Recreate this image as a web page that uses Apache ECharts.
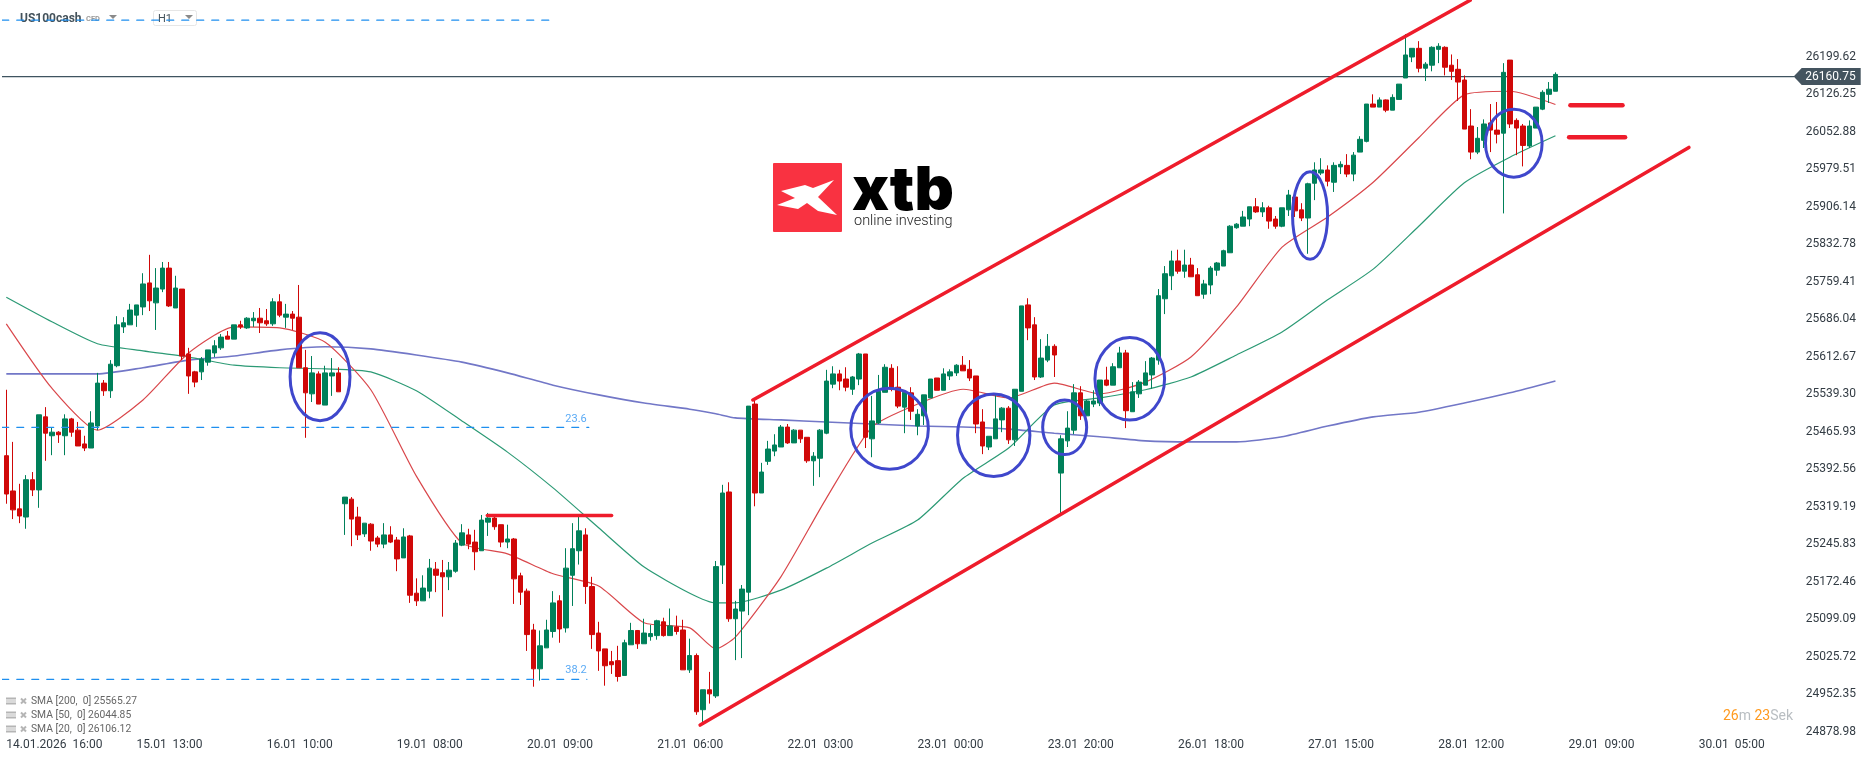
<!DOCTYPE html>
<html>
<head>
<meta charset="utf-8">
<title>US100cash H1</title>
<style>
  html, body { margin: 0; padding: 0; background: #fff; }
  #chart { width: 1866px; height: 761px; }
</style>
<script src="https://cdn.jsdelivr.net/npm/echarts@6/dist/echarts.min.js"></script>
</head>
<body>
<div id="chart"></div>
<script>
// hourly candles
const opens = [
  25419,25350,25315,25299,25372,25352,25495,25458,25465,25458,
  25491,25469,25442,25434,25477,25561,25546,25595,25671,25675,
  25694,25710,25757,25718,25745,25786,25708,25745,25618,25583,
  25583,25602,25620,25630,25653,25647,25675,25669,25683,25688,
  25683,25677,25720,25690,25696,25690,25591,25540,25579,25518,
  25575,25581,25325,25334,25299,25266,25285,25258,25246,25264,
  25254,25219,25262,25150,25135,25154,25197,25190,25182,25193,
  25244,25264,25250,25233,25289,25297,25284,25250,25256,25184,
  25154,25078,25002,25043,25075,25135,25082,25185,25233,25264,
  25163,25072,25041,25016,25018,24989,25049,25077,25051,25065,
  25067,25094,25067,25084,25078,25000,25028,24922,24961,24949,
  25205,25348,25100,25115,25152,25520,25346,25408,25428,25436,
  25475,25444,25469,25455,25409,25414,25463,25559,25579,25569,
  25549,25569,25618,25452,25483,25543,25590,25553,25514,25542,
  25477,25497,25532,25571,25547,25575,25581,25596,25588,25575,
  25485,25436,25452,25489,25512,25450,25545,25714,25675,25573,
  25606,25633,25385,25448,25469,25542,25497,25520,25522,25567,
  25557,25591,25620,25505,25540,25557,25577,25606,25726,25771,
  25800,25780,25792,25773,25735,25753,25782,25790,25816,25865,
  25868,25882,25906,25896,25904,25882,25868,25900,25925,25900,
  25884,25952,25972,25978,25954,25984,25987,25970,26013,26034,
  26107,26101,26115,26095,26116,26158,26199,26216,26177,26183,
  26214,26218,26183,26175,26154,26064,26013,26036,26070,26056,
  26050,26193,26075,26064,26025,26060,26097,26126,26132
];
const closes = [
  25344,25313,25301,25372,25352,25499,25463,25465,25460,25491,
  25465,25438,25434,25483,25561,25546,25598,25675,25679,25704,
  25714,25755,25722,25747,25786,25712,25747,25614,25575,25563,
  25608,25626,25634,25651,25647,25675,25671,25688,25688,25679,
  25677,25720,25694,25696,25688,25591,25542,25581,25520,25581,
  25581,25544,25338,25295,25264,25287,25252,25246,25264,25250,
  25217,25260,25146,25135,25160,25199,25185,25182,25195,25248,
  25268,25246,25231,25293,25297,25280,25250,25256,25178,25152,
  25069,25002,25047,25078,25131,25080,25199,25237,25272,25163,
  25069,25037,25008,25010,24987,25053,25077,25051,25072,25071,
  25096,25067,25086,25075,25000,25028,24918,24961,24953,25202,
  25346,25100,25119,25158,25516,25346,25387,25432,25440,25475,
  25444,25469,25452,25409,25418,25469,25565,25579,25565,25553,
  25573,25618,25455,25487,25545,25592,25549,25516,25543,25506,
  25500,25538,25569,25547,25579,25583,25596,25585,25571,25481,
  25438,25457,25491,25512,25450,25549,25712,25669,25573,25610,
  25633,25616,25452,25473,25542,25497,25526,25526,25567,25557,
  25593,25620,25507,25544,25563,25581,25610,25732,25775,25800,
  25780,25792,25769,25732,25755,25786,25796,25820,25868,25872,
  25886,25906,25896,25904,25878,25868,25904,25929,25898,25884,
  25951,25978,25978,25956,25987,25989,25970,26007,26038,26107,
  26101,26115,26095,26120,26146,26203,26216,26177,26185,26218,
  26220,26179,26171,26150,26058,26013,26040,26068,26056,26048,
  26169,26068,26060,26026,26064,26101,26130,26136,26165
];
const lows = [
  25325,25295,25287,25276,25340,25317,25409,25420,25444,25420,
  25456,25438,25428,25434,25469,25536,25532,25592,25659,25675,
  25671,25694,25702,25665,25739,25710,25708,25606,25540,25553,
  25567,25595,25612,25626,25647,25647,25667,25667,25671,25659,
  25673,25673,25690,25669,25665,25591,25454,25524,25520,25518,
  25536,25544,25264,25242,25254,25260,25233,25240,25238,25248,
  25193,25219,25131,25125,25135,25140,25152,25104,25156,25190,
  25242,25236,25195,25233,25262,25274,25240,25238,25129,25127,
  25037,24967,24979,25043,25063,25053,25073,25125,25206,25129,
  25041,24998,24969,24992,24977,24989,25049,25041,25051,25057,
  25059,25065,25067,25069,25000,24994,24912,24897,24934,24945,
  25168,25094,25019,25023,25107,25320,25346,25401,25418,25436,
  25442,25444,25444,25405,25360,25377,25461,25551,25547,25545,
  25538,25557,25434,25416,25481,25543,25545,25512,25463,25489,
  25459,25479,25532,25547,25547,25567,25575,25585,25565,25463,
  25422,25430,25452,25465,25442,25438,25545,25645,25567,25571,
  25602,25573,25307,25436,25461,25489,25497,25514,25516,25555,
  25557,25591,25473,25505,25532,25557,25550,25597,25696,25743,
  25775,25767,25769,25732,25726,25735,25771,25790,25816,25863,
  25868,25868,25894,25886,25863,25863,25866,25888,25886,25878,
  25814,25919,25968,25946,25935,25970,25964,25956,26013,26032,
  26101,26101,26091,26095,26116,26158,26189,26169,26152,26171,
  26187,26163,26154,26113,26058,25999,26009,26021,26013,26030,
  25893,26060,26007,25985,26021,26060,26095,26109,26132
];
const highs = [
  25548,25446,25364,25381,25387,25499,25514,25475,25467,25500,
  25493,25485,25458,25506,25581,25567,25606,25692,25690,25716,
  25714,25776,25812,25786,25798,25798,25771,25745,25630,25585,
  25612,25626,25645,25657,25663,25675,25683,25690,25700,25708,
  25706,25727,25735,25716,25702,25753,25626,25614,25584,25595,
  25610,25592,25338,25338,25319,25287,25287,25262,25287,25281,
  25260,25277,25264,25179,25185,25217,25211,25215,25211,25254,
  25285,25276,25274,25303,25307,25301,25284,25284,25258,25190,
  25159,25090,25077,25098,25154,25146,25238,25287,25299,25277,
  25182,25094,25041,25037,25047,25059,25092,25078,25100,25088,
  25098,25102,25120,25106,25098,25061,25032,24961,24996,25213,
  25362,25367,25135,25166,25516,25528,25405,25448,25461,25479,
  25481,25471,25469,25455,25426,25471,25587,25594,25587,25592,
  25575,25620,25618,25536,25577,25598,25598,25594,25547,25553,
  25510,25538,25569,25571,25590,25588,25598,25614,25606,25575,
  25510,25457,25540,25514,25516,25549,25712,25727,25690,25647,
  25657,25637,25459,25506,25559,25555,25528,25547,25567,25593,
  25600,25632,25626,25563,25567,25604,25612,25745,25790,25820,
  25822,25822,25806,25786,25763,25790,25798,25822,25870,25874,
  25898,25906,25923,25915,25908,25888,25904,25939,25925,25913,
  25953,25993,26001,25987,25993,25995,26009,26013,26044,26107,
  26126,26120,26116,26126,26146,26244,26216,26230,26189,26220,
  26226,26220,26204,26195,26163,26097,26062,26077,26107,26111,
  26187,26193,26079,26068,26075,26101,26134,26150,26169
];

// moving averages, read at these candles
const smaIndex = [
  0,7,14,21,28,35,42,49,56,63,70,77,
  84,91,98,105,109,112,119,126,133,140,147,154,
  161,168,175,182,189,196,203,210,217,224,231,238
];
const sma20 = [
  25677,25551,25469,25528,25620,25671,25669,25641,25548,25379,25248,25227,
  25188,25164,25092,25082,25041,25064,25182,25336,25475,25520,25549,25532,25561,
  25540,25563,25612,25710,25827,25886,25954,26041,26125,26132,26106.12
];
const sma50 = [
  25729,25681,25638,25624,25612,25596,25591,25589,25583,25546,25487,25426,
  25356,25278,25201,25150,25131,25131,25156,25199,25248,25293,25375,25434,25518,
  25532,25548,25573,25616,25661,25724,25784,25868,25953,26003,26044.85
];
const sma200 = [
  25579,25579,25579,25591,25606,25614,25626,25632,25628,25616,25602,25581,
  25557,25538,25522,25510,25501,25493,25489,25485,25481,25477,25475,25471,25463,
  25456,25448,25446,25446,25456,25477,25495,25504,25522,25542,25565.27
];

const xTickLabels = [
  '14.01.2026  16:00','15.01  13:00','16.01  10:00','19.01  08:00','20.01  09:00',
  '21.01  06:00','22.01  03:00','23.01  00:00','23.01  20:00','26.01  18:00',
  '27.01  15:00','28.01  12:00','29.01  09:00','30.01  05:00'
];
const xTickEvery = 20;
const priceTicks = [
  26199.62,26126.25,26052.88,25979.51,25906.14,25832.78,25759.41,25686.04,25612.67,25539.30,
  25465.93,25392.56,25319.19,25245.83,25172.46,25099.09,25025.72,24952.35,24878.98
];
const lastPrice = 26160.75;

// drawings on the chart, [candle index, price]
const upperChannel = [[114.7, 25528], [224.9, 26310]];
const lowerChannel = [[106.6, 24892], [258.5, 26022]];
const resistance = [[73.9, 25302], [93, 25302]];
const levelHigh = [[240.3, 26104.5], [248.3, 26104.5]];
const levelLow = [[240.1, 26042], [248.7, 26042]];
const fibTop = [[-0.7, 26271], [84.3, 26271]];
const fib236 = [[-0.7, 25474.5], [89.5, 25474.5]];
const fib382 = [[-0.7, 24981.5], [89.2, 24981.5]];
// circled spots: [index, price, index radius, price radius]
const circles = [
  [48.2, 25573.5, 4.6, 86.1],
  [135.7, 25471.6, 5.96, 79.2],
  [151.7, 25458.9, 5.56, 80.8],
  [162.6, 25474.5, 3.38, 53.4],
  [172.6, 25569.4, 5.35, 80.6],
  [200.3, 25889, 2.69, 85.7],
  [231.6, 26030.2, 4.35, 66.5]
];

const smaLegend = ['SMA [200,  0] 25565.27', 'SMA [50,  0] 26044.85', 'SMA [20,  0] 26106.12'];

const slots = 286;
const categories = Array.from({ length: slots }, (_, i) =>
  i % xTickEvery === 0 ? (xTickLabels[i / xTickEvery] || '') : '');
const candles = opens.map((o, i) => [o, closes[i], lows[i], highs[i]]);

const UP = '#00805a', DOWN = '#d00808', RED = '#ee1c2b', BLUE = '#3f47cc', FIB = '#1e8fef';
const TEXT = '#333c44', FONT = 'Roboto';

function seg(points, color, width, type, z) {
  return {
    type: 'line', xAxisIndex: 1, data: points, symbol: 'none', silent: true, z: z,
    lineStyle: { color: color, width: width, type: type || 'solid', cap: 'round' }
  };
}

function smaLine(values, color, width) {
  return {
    type: 'line', xAxisIndex: 1, symbol: 'none', silent: true, z: 1, smooth: 0.2,
    data: values.map((v, k) => [smaIndex[k], v]),
    lineStyle: { color: color, width: width }
  };
}

const graphics = [];
// logo
graphics.push(
  { type: 'rect', shape: { x: 773, y: 163, width: 69, height: 69, r: 1 }, style: { fill: '#f93241' } },
  { type: 'polygon', shape: { points: [[781,191],[805,185],[813,188],[834,180],[818,197],[837,215],[818,211],[807,203],[798,209],[777,205],[795,198]] }, style: { fill: '#fff' } },
  { type: 'text', style: { x: 852, y: 222, text: 'xtb', fill: '#000', font: '900 61px Inter', verticalAlign: 'bottom' } },
  { type: 'text', style: { x: 854, y: 221, text: 'online investing', fill: '#222', font: '300 14.5px Roboto', verticalAlign: 'middle' } }
);
// header
graphics.push(
  { type: 'text', style: { x: 20, y: 19, text: 'US100cash', fill: '#44525b', font: 'bold 12px Roboto', verticalAlign: 'middle' } },
  { type: 'text', style: { x: 86, y: 19.5, text: 'CFD', fill: '#9a9a9a', font: 'bold 7.5px Roboto', verticalAlign: 'middle' } },
  { type: 'polygon', shape: { points: [[109,15],[117,15],[113,19]] }, style: { fill: '#8a8a8a' } },
  { type: 'rect', shape: { x: 153.5, y: 10.5, width: 43, height: 15, r: 2 }, style: { fill: 'none', stroke: '#e6e6e6' } },
  { type: 'text', style: { x: 158, y: 19.5, text: 'H1', fill: '#44525b', font: '11px Roboto', verticalAlign: 'middle' } },
  { type: 'polygon', shape: { points: [[185,15],[193,15],[189,19]] }, style: { fill: '#8a8a8a' } }
);
// sma legend rows
smaLegend.forEach((label, i) => {
  const y = 701.5 + i * 14;
  graphics.push(
    { type: 'rect', shape: { x: 6, y: y - 4, width: 10, height: 2 }, style: { fill: '#b5b5b5' } },
    { type: 'rect', shape: { x: 6, y: y - 1, width: 10, height: 1 }, style: { fill: '#b5b5b5' } },
    { type: 'rect', shape: { x: 6, y: y + 1, width: 10, height: 2 }, style: { fill: '#b5b5b5' } },
    { type: 'polyline', shape: { points: [[21, y - 3], [26, y + 2]] }, style: { stroke: '#b5b5b5', lineWidth: 2, fill: 'none' } },
    { type: 'polyline', shape: { points: [[26, y - 3], [21, y + 2]] }, style: { stroke: '#b5b5b5', lineWidth: 2, fill: 'none' } },
    { type: 'text', style: { x: 31, y: y, text: label, fill: '#666', font: '10.3px Roboto', verticalAlign: 'middle' } }
  );
});
// fib labels and countdown
graphics.push(
  { type: 'text', style: { x: 576, y: 419, text: '23.6', fill: '#5aaaf5', font: '11px Roboto', align: 'center', verticalAlign: 'middle' } },
  { type: 'text', style: { x: 576, y: 670, text: '38.2', fill: '#5aaaf5', font: '11px Roboto', align: 'center', verticalAlign: 'middle' } },
  { type: 'text', style: {
    x: 1723, y: 716, verticalAlign: 'middle',
    text: '{a|26}{b|m }{a|23}{b|Sek}',
    rich: {
      a: { fill: '#ff9a1f', font: '14px Roboto' },
      b: { fill: '#b9bec2', font: '14px Roboto' }
    }
  } }
);

const chart = echarts.init(document.getElementById('chart'));
chart.setOption({
  animation: false,
  backgroundColor: '#fff',
  grid: { left: 3.05, top: 0, width: slots * 6.509, height: 733 },
  xAxis: [
    {
      type: 'category', data: categories, boundaryGap: true,
      axisLine: { show: false }, axisTick: { show: false }, splitLine: { show: false },
      axisLabel: { interval: xTickEvery - 1, align: 'left', color: TEXT, fontFamily: FONT, fontSize: 12, margin: 6, hideOverlap: false }
    },
    { type: 'value', min: -0.5, max: slots - 0.5, show: false }
  ],
  yAxis: {
    type: 'value', position: 'right', min: 24876.44, max: 26310.55, scale: true,
    axisLine: { show: false }, axisTick: { show: false }, splitLine: { show: false },
    axisLabel: {
      inside: true, customValues: priceTicks, margin: 8.6, color: TEXT, fontFamily: FONT, fontSize: 12,
      showMinLabel: true, showMaxLabel: true,
      formatter: v => v.toFixed(2)
    }
  },
  graphic: { elements: graphics },
  series: [
    seg([[-0.7, lastPrice], [274.6, lastPrice]], '#3f5460', 1.2, 'solid', 1),
    smaLine(sma200, '#7277c7', 1.6),
    smaLine(sma50, '#2c9a75', 1.2),
    smaLine(sma20, '#d9474b', 1.2),
    {
      type: 'candlestick', data: candles, barWidth: 5, z: 2, silent: true,
      itemStyle: { color: UP, color0: DOWN, borderColor: UP, borderColor0: DOWN, borderWidth: 1 }
    },
    seg(fibTop, FIB, 1.2, [7, 8], 3),
    seg(fib236, FIB, 1.2, [7, 8], 3),
    seg(fib382, FIB, 1.2, [7, 8], 3),
    seg(upperChannel, RED, 3.6, 'solid', 4),
    seg(lowerChannel, RED, 3.6, 'solid', 4),
    seg(resistance, RED, 3.4, 'solid', 4),
    seg(levelHigh, RED, 4.5, 'solid', 4),
    seg(levelLow, RED, 4.5, 'solid', 4),
    {
      type: 'custom', xAxisIndex: 1, z: 5, silent: true, data: circles,
      renderItem: (params, api) => {
        const c = api.coord([api.value(0), api.value(1)]);
        const r = api.size([api.value(2), api.value(3)]);
        return { type: 'ellipse', shape: { cx: c[0], cy: c[1], rx: r[0], ry: r[1] }, style: { fill: 'none', stroke: BLUE, lineWidth: 3 } };
      }
    },
    {
      // last price tag on the right scale
      type: 'custom', xAxisIndex: 1, z: 6, silent: true, data: [[274.6, lastPrice]],
      renderItem: (params, api) => {
        const c = api.coord([api.value(0), api.value(1)]);
        const x = c[0], y = c[1];
        return {
          type: 'group', children: [
            { type: 'polygon', shape: { points: [[x, y], [x + 8, y - 8.5], [x + 67, y - 8.5], [x + 67, y + 8.5], [x + 8, y + 8.5]] }, style: { fill: '#44545f' } },
            { type: 'text', style: { x: x + 62, y: y + 0.5, text: api.value(1).toFixed(2), fill: '#fff', font: '12px Roboto', align: 'right', verticalAlign: 'middle' } }
          ]
        };
      }
    }
  ]
});
</script>
</body>
</html>
